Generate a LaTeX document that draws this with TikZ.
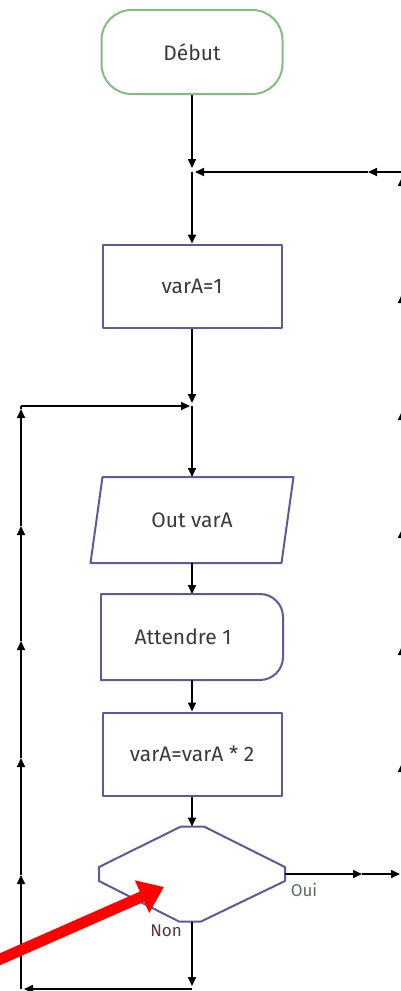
\documentclass[tikz,border=0pt]{standalone}
\usepackage{fontspec}
\setmainfont{Fira Sans}
\usetikzlibrary{arrows.meta,calc,positioning}
\definecolor{startgreen}{HTML}{80BF80}
\definecolor{boxblue}{HTML}{5A5A9C}
\definecolor{txtgray}{HTML}{3A3A3A}
\definecolor{ouigreen}{HTML}{566E56}
\definecolor{nonbrown}{HTML}{553A3A}
\tikzset{
  flow/.style={line width=1.7pt, -{Triangle[length=9pt,width=8pt]}},
  wire/.style={line width=1.7pt},
  boxline/.style={draw=boxblue, line width=2pt, line cap=round, line join=round},
  lbl/.style={text=txtgray, font=\fontsize{21}{25}\selectfont},
  block/.style={rectangle, boxline, minimum width=179pt, minimum height=83pt, lbl},
  start/.style={rectangle, rounded corners=30pt, draw=startgreen, line width=2pt,
    minimum width=181pt, minimum height=84pt, lbl},
  branch/.style={font=\fontsize{17}{20}\selectfont}
}
\begin{document}
\begin{tikzpicture}[x=1pt,y=-1pt]
  \useasboundingbox (0,0) rectangle (401,991);
  % blocks
  \node[start] (debut) at (192,52) {Début};
  \node[block] (init) at (192,286) {varA=1};
  \node[block, draw=none, minimum width=189pt, minimum height=84pt] (out) at (192,520) {Out varA};
  \draw[boxline] ($(out.north west)+(6,0)$) -- ($(out.north east)+(6,0)$)
    -- ($(out.south east)+(-6,0)$) -- ($(out.south west)+(-6,0)$) -- cycle;
  \node[block, draw=none, minimum width=180pt, minimum height=84pt,
    label={[lbl, xshift=-9pt]center:Attendre 1}] (att) at (192,637) {};
  \draw[boxline, rounded corners=23pt] (att.north west) -- (att.north east)
    -- (att.south east) -- (att.south west);
  \draw[boxline] (att.south west) -- (att.north west);
  \node[block] (mul) at (192,754) {varA=varA * 2};
  \node[block, draw=none, minimum width=184pt, minimum height=93pt] (cond) at (192,874) {};
  \draw[boxline] ($(cond.north west)+(82,0)$) -- ($(cond.north east)+(-81,0)$)
    -- ($(cond.east)+(0,-7)$) -- ($(cond.east)+(0,7)$)
    -- ($(cond.south east)+(-84,0)$) -- ($(cond.south west)+(80,0)$)
    -- ($(cond.west)+(0,7)$) -- ($(cond.west)+(0,-7)$) -- cycle;
  \node[branch, text=ouigreen] (oui) at (304,890) {Oui};
  \node[branch, text=nonbrown] (non) at (166,931) {Non};
  % junctions and corners
  \coordinate (j1) at (192,172);
  \coordinate (j2) at (192,406);
  \coordinate (nonbot) at (192,989);
  \coordinate (lbot) at (21,989);
  \coordinate (ltop) at (21,406);
  \foreach \n/\y in {1/875,2/758,3/641,4/526,5/409}
    \coordinate (l\n) at (21,\y);
  \coordinate (ouimid) at (362,874);
  \coordinate (rbot) at (402,874);
  \coordinate (rtop) at (402,172);
  \coordinate (topmid) at (368,172);
  \foreach \n/\y in {1/763,2/646,3/529,4/411,5/294,6/177}
    \coordinate (r\n) at (402,\y);
  % main line
  \draw[flow, shorten >=4pt] (debut) -- (j1);
  \draw[flow] (j1) -- (init);
  \draw[flow, shorten >=3pt] (init) -- (j2);
  \draw[flow] (j2) -- (out.north);
  \draw[flow] (out) -- (att);
  \draw[flow] (att) -- (mul);
  \draw[flow] (mul) -- (cond.north);
  % Non: back to the loop
  \draw[flow, shorten >=3pt] (cond.south) -- (nonbot);
  \draw[flow, shorten >=3pt] (nonbot) -- (lbot);
  \foreach \a/\b in {lbot/l1,l1/l2,l2/l3,l3/l4,l4/l5}
    \draw[flow] (\a) -- (\b);
  \draw[wire] (l5) -- (ltop);
  \draw[flow, shorten >=2pt] (ltop) -- (j2);
  % Oui: back to the start
  \draw[flow] (cond.east) -- (ouimid);
  \draw[flow, shorten >=2pt] (ouimid) -- (rbot);
  \foreach \a/\b in {rbot/r1,r1/r2,r2/r3,r3/r4,r4/r5,r5/r6}
    \draw[flow] (\a) -- (\b);
  \draw[wire] (r6) -- (rtop);
  \draw[flow] (rtop) -- (topmid);
  \draw[flow, shorten >=3pt] (topmid) -- (j1);
  % red pointer
  \coordinate (redstart) at (-4,961);
  \coordinate (redtip) at (164,887);
  \draw[red, line width=11pt, -{Triangle[length=24pt,width=34pt]}] (redstart) -- (redtip);
\end{tikzpicture}
\end{document}
